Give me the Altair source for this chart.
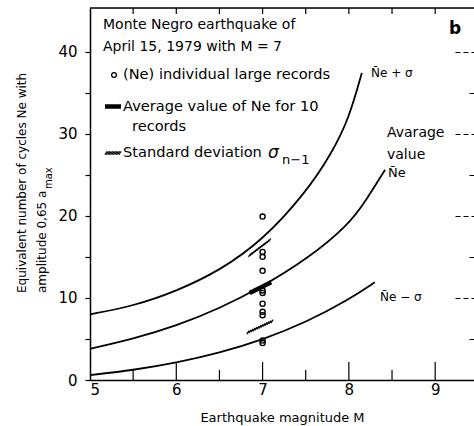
import altair as alt
import pandas as pd

# ---------------- data ----------------
m_upper = [5.0, 5.5, 6.0, 6.5, 7.0, 7.5, 7.8, 8.0, 8.15]
ne_upper = [8.0, 9.0, 10.8, 13.3, 17.0, 22.8, 27.6, 31.8, 37.4]

m_mean = [5.0, 5.5, 6.0, 6.5, 7.0, 7.5, 8.0, 8.2, 8.42]
ne_mean = [3.8, 5.0, 6.6, 8.7, 11.4, 14.6, 18.9, 21.9, 25.6]

m_lower = [5.0, 5.5, 6.0, 6.5, 7.0, 7.5, 8.0, 8.3]
ne_lower = [0.6, 1.2, 2.1, 3.3, 4.9, 7.0, 9.8, 11.9]

records_ne = [19.9, 15.6, 15.0, 13.3, 10.9, 10.6, 9.3, 8.3, 7.9, 4.8, 4.5]
records_m = [7.0] * len(records_ne)

avg_m = [6.85, 7.1]
avg_ne = [10.6, 11.9]

sd_m0 = [6.85, 6.83]
sd_m1 = [7.09, 7.12]
sd_n0 = [15.2, 5.8]
sd_n1 = [17.1, 7.2]

x_labels = [5, 6, 7, 8, 9]
x_ticks_major = [6, 7, 8, 9]
x_ticks_minor = [5.5, 6.5, 7.5, 8.5]
x_ticks_top = [5.5, 6, 6.5, 7, 7.5, 8, 8.5, 9]
y_ticks = [0, 5, 10, 15, 20, 25, 30, 35, 40]

FONT = "DejaVu Sans"
X_SCALE = alt.Scale(domain=[5, 9.45], nice=False, zero=False)
Y_SCALE = alt.Scale(domain=[0, 45.3], nice=False, zero=False)
W, H = 384, 372

up_df = pd.DataFrame({"M": m_upper, "Ne": ne_upper})
mean_df = pd.DataFrame({"M": m_mean, "Ne": ne_mean})
low_df = pd.DataFrame({"M": m_lower, "Ne": ne_lower})
rec_df = pd.DataFrame({"M": records_m, "Ne": records_ne})
avg_df = pd.DataFrame({"M": avg_m, "Ne": avg_ne})
sd_df = pd.DataFrame({"m0": sd_m0, "m1": sd_m1, "n0": sd_n0, "n1": sd_n1})
one_df = pd.DataFrame({"a": [0]})

# upper curve: carries bottom x axis and left y axis
upper = alt.Chart(up_df).mark_line(color="black", strokeWidth=1.8, interpolate="basis").encode(
    x=alt.X("M:Q", scale=X_SCALE, axis=alt.Axis(
        orient="bottom", values=x_labels, ticks=False, tickSize=0, labelPadding=2,
        labelFontSize=15, labelColor="black", labelFont=FONT, domainColor="black", domainWidth=1.5,
        grid=False, title="Earthquake magnitude  M", titleFont=FONT, titleFontSize=13,
        titleFontWeight="normal", titleColor="black", titleY=41, titleBaseline="alphabetic")),
    y=alt.Y("Ne:Q", scale=Y_SCALE, axis=alt.Axis(
        orient="left", values=y_ticks,
        labelExpr="datum.value % 10 == 0 ? datum.label : ''",
        tickSize=5, tickColor="black", tickWidth=1.2, labelPadding=8, labelFontSize=15,
        labelFont=FONT, labelColor="black", domainColor="black", domainWidth=1.5,
        grid=False, title=None)),
)

# mean curve: right dashed ticks at 10s
mean = alt.Chart(mean_df).mark_line(color="black", strokeWidth=1.8, interpolate="basis").encode(
    x=alt.X("M:Q", scale=X_SCALE, axis=None),
    y=alt.Y("Ne:Q", scale=Y_SCALE, axis=alt.Axis(
        orient="right", offset=-19, values=[10, 20, 30, 40], tickSize=19, tickColor="black",
        tickWidth=1, tickDash=[5, 3], labels=False, domain=False, grid=False, title=None)),
)

lower = alt.Chart(low_df).mark_line(color="black", strokeWidth=1.8, interpolate="basis").encode(
    x=alt.X("M:Q", scale=X_SCALE, axis=None),
    y=alt.Y("Ne:Q", scale=Y_SCALE, axis=alt.Axis(
        orient="right", offset=-5, values=[5, 15, 25, 35], tickSize=5, tickColor="black",
        tickWidth=1, labels=False, domain=False, grid=False, title=None)),
)

points = alt.Chart(rec_df).mark_point(shape="circle", filled=False, size=26, strokeWidth=1.4,
                                      color="black", opacity=1).encode(
    x=alt.X("M:Q", scale=X_SCALE, axis=None),
    y=alt.Y("Ne:Q", scale=Y_SCALE, axis=None),
)

avg_bar = alt.Chart(avg_df).mark_line(color="black", strokeWidth=4.5).encode(
    x=alt.X("M:Q", scale=X_SCALE, axis=None),
    y=alt.Y("Ne:Q", scale=Y_SCALE, axis=None),
)

HATCH = "M-0.35,0.5L0.35,-0.5"
hatch = alt.Chart(sd_df).transform_calculate(
    t="sequence(0, 1.001, 0.08)"
).transform_flatten(["t"]).transform_calculate(
    M="datum.m0 + datum.t * (datum.m1 - datum.m0)",
    Ne="datum.n0 + datum.t * (datum.n1 - datum.n0)",
).mark_point(shape=HATCH, filled=False, size=45, strokeWidth=1.3, color="black", opacity=1).encode(
    x=alt.X("M:Q", scale=X_SCALE, axis=None),
    y=alt.Y("Ne:Q", scale=Y_SCALE, axis=None),
)

# inward tick marks along bottom and top edges
def xticks(vals, y1, y2):
    return alt.Chart(pd.DataFrame({"M": vals})).mark_rule(color="black", strokeWidth=1.2).encode(
        x=alt.X("M:Q", scale=X_SCALE, axis=None), y=alt.value(y1), y2=alt.value(y2))

tick_major = xticks(x_ticks_major, H, H - 18)
tick_minor = xticks(x_ticks_minor, H, H - 10)
tick_top = xticks(x_ticks_top, 0, 6)
top_line = alt.Chart(one_df).mark_rule(color="black", strokeWidth=1.5).encode(
    x=alt.value(0), x2=alt.value(W), y=alt.value(0))

# ---------------- annotations (pixel positions relative to plot origin) ----------------
def txt(text, x, y, size=14, align="left", baseline="middle", angle=0, weight="normal", style="normal"):
    props = dict(text=text, fontSize=size, font=FONT, align=align, baseline=baseline,
                 color="black", fontWeight=weight, fontStyle=style)
    if angle:
        props["angle"] = angle
    return alt.Chart(one_df).mark_text(**props).encode(x=alt.value(x), y=alt.value(y))

annots = [
    txt("Monte Negro earthquake of", 13, 17, 14),
    txt("April 15, 1979 with M = 7", 13, 39, 14),
    txt("(Ne) individual large records", 33, 67, 14.6),
    txt("Average value of Ne for 10", 33, 98.5, 14.6),
    txt("records", 42, 119, 14.6),
    txt("Standard deviation", 33, 145, 14.6),
    txt("σ", 178, 145, 17, style="italic"),
    txt("n−1", 192, 152, 13),
    txt("b", 365, 21, 17, align="center", weight="bold"),
    txt("N̄e + σ", 281, 65, 12),
    txt("Avarage", 297, 125, 14),
    txt("value", 297, 147, 14),
    txt("N̄e", 298, 165, 13),
    txt("N̄e − σ", 290, 289, 12),
    txt("Equivalent number of cycles Ne with", -68, 285, 12, angle=270),
    txt("amplitude 0,65 a", -48, 285, 12, angle=270),
    txt("max", -41, 181, 10, angle=270),
]

leg_circle = alt.Chart(one_df).mark_point(shape="circle", filled=False, size=22, strokeWidth=1.3,
                                          color="black", opacity=1).encode(
    x=alt.value(24), y=alt.value(67))
leg_bar = alt.Chart(one_df).mark_rule(color="black", strokeWidth=4.5).encode(
    x=alt.value(15), x2=alt.value(31), y=alt.value(98.5))
leg_hatch = alt.Chart(one_df).transform_calculate(
    t="sequence(0, 1.001, 0.1)"
).transform_flatten(["t"]).transform_calculate(
    px="16 + datum.t * 14"
).mark_point(shape=HATCH, filled=False, size=40, strokeWidth=1.1, color="black", opacity=1).encode(
    x=alt.X("px:Q", scale=None, axis=None), y=alt.value(145))

chart = alt.layer(
    upper, mean, lower, points, avg_bar, hatch, tick_major, tick_minor, tick_top, top_line,
    leg_circle, leg_bar, leg_hatch, *annots
).resolve_scale(x="shared", y="shared").resolve_axis(x="independent", y="independent").properties(
    width=W, height=H,
    autosize=alt.AutoSizeParams(type="none"),
    padding={"left": 90, "top": 8, "right": 0, "bottom": 46},
    background="white",
).configure_view(stroke=None).configure(font=FONT)

chart.save("out.html", embed_options={"renderer": "svg", "actions": False})
